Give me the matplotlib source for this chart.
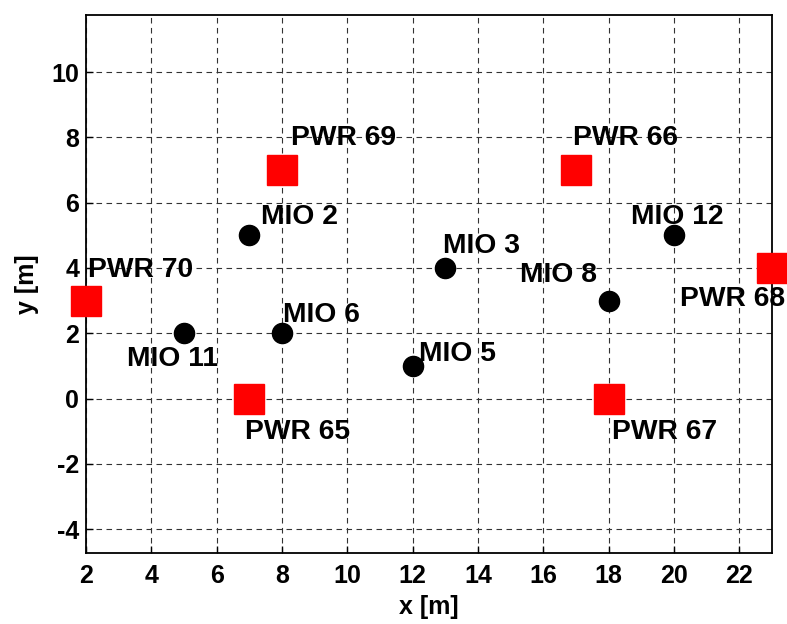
import matplotlib.pyplot as plt

plt.rcParams['font.family'] = ['Liberation Sans', 'DejaVu Sans']
plt.rcParams['font.weight'] = 'bold'
plt.rcParams['axes.unicode_minus'] = False

# MIO nodes (black circles)
mio_names = ["MIO 2", "MIO 3", "MIO 5", "MIO 6", "MIO 8", "MIO 11", "MIO 12"]
mio_x = [7, 13, 12, 8, 18, 5, 20]
mio_y = [5, 4, 1, 2, 3, 2, 5]

# PWR nodes (red squares)
pwr_names = ["PWR 65", "PWR 66", "PWR 67", "PWR 68", "PWR 69", "PWR 70"]
pwr_x = [7, 17, 18, 23, 8, 2]
pwr_y = [0, 7, 0, 4, 7, 3]

# label offsets (dx, dy, ha) per node
mio_off = [(0.35, 0.55, "left"), (-0.08, 0.66, "left"), (0.2, 0.38, "left"),
           (0.02, 0.57, "left"), (-0.37, 0.77, "right"), (1.04, -0.8, "right"),
           (-1.33, 0.55, "left")]
pwr_off = [(-0.14, -1.01, "left"), (-0.08, 0.97, "left"), (0.09, -1.01, "left"),
           (-2.83, -0.96, "left"), (0.27, 0.97, "left"), (0.06, 0.93, "left")]

fig = plt.figure(figsize=(7.87, 6.24), dpi=100)
ax = fig.add_axes([0.1093, 0.1138, 0.8717, 0.8622])

ax.plot(mio_x, mio_y, "o", color="black", markersize=14.5, clip_on=False, zorder=3)
ax.plot(pwr_x, pwr_y, "s", color="red", markersize=21.5, clip_on=False, zorder=3)

fs = 20.3
for n, x, y, (dx, dy, ha) in zip(mio_names, mio_x, mio_y, mio_off):
    ax.text(x + dx, y + dy, n, ha=ha, va="center", fontsize=fs, fontweight="bold")
for n, x, y, (dx, dy, ha) in zip(pwr_names, pwr_x, pwr_y, pwr_off):
    ax.text(x + dx, y + dy, n, ha=ha, va="center", fontsize=fs, fontweight="bold")

ax.set_xlim(2, 23)
ax.set_ylim(-4.73, 11.75)
ax.set_xticks(range(2, 23, 2))
ax.set_yticks(range(-4, 11, 2))
ax.grid(True, color="#333333", linestyle=(0, (5, 4)), linewidth=0.8)
ax.tick_params(direction="in", length=5, width=1, labelsize=18, top=False, right=False)
ax.tick_params(axis="x", pad=8)
ax.tick_params(axis="y", pad=5)
for lab in ax.get_xticklabels() + ax.get_yticklabels():
    lab.set_fontweight("bold")
for s in ax.spines.values():
    s.set_linewidth(1.3)

ax.set_xlabel("x [m]", fontsize=18, fontweight="bold", labelpad=5)
ax.set_ylabel("y [m]", fontsize=18, fontweight="bold", labelpad=9)

fig.savefig("out.png", dpi=100)
